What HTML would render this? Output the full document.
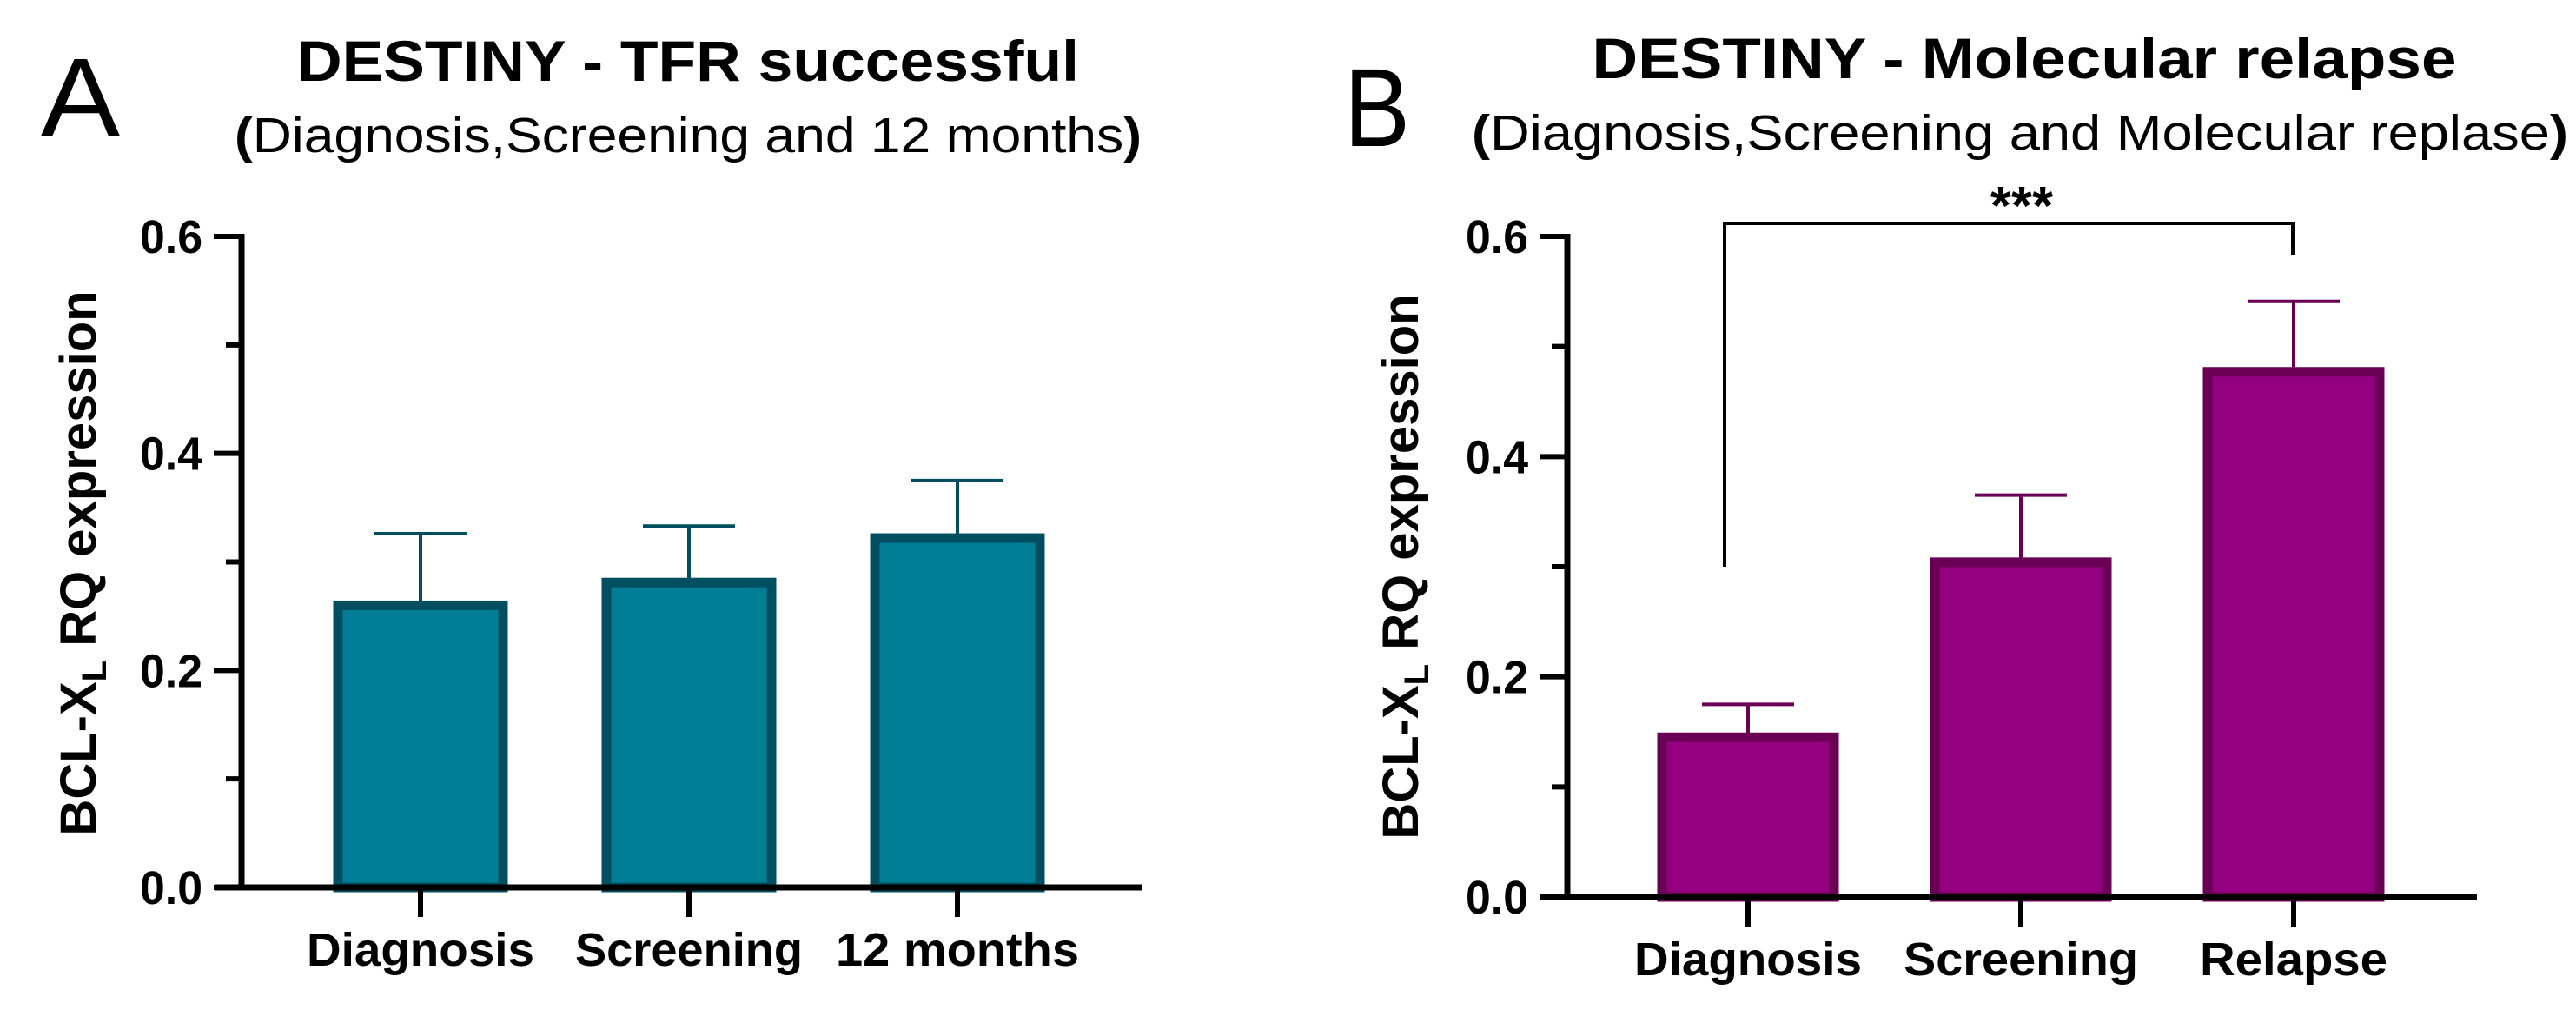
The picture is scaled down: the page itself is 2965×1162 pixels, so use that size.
<!DOCTYPE html>
<html><head><meta charset="utf-8"><style>
body{margin:0;background:#fff}
svg{display:block}
text{font-family:"Liberation Sans",sans-serif}
</style></head><body>
<svg id="fig" width="2965" height="1162" viewBox="0 0 2965 1162">
<text x="47" y="156" font-size="128" textLength="91" lengthAdjust="spacingAndGlyphs">A</text>
<text x="792" y="93" font-size="66" font-weight="bold" text-anchor="middle" textLength="900" lengthAdjust="spacingAndGlyphs">DESTINY - TFR successful</text>
<text x="792" y="175" font-size="57" text-anchor="middle" textLength="1044" lengthAdjust="spacingAndGlyphs"><tspan font-weight="bold">(</tspan>Diagnosis,Screening and 12 months<tspan font-weight="bold">)</tspan></text>
<text x="1547" y="168" font-size="128" textLength="76" lengthAdjust="spacingAndGlyphs">B</text>
<text x="2330" y="90" font-size="66" font-weight="bold" text-anchor="middle" textLength="995" lengthAdjust="spacingAndGlyphs">DESTINY - Molecular relapse</text>
<text x="2325" y="172" font-size="57" text-anchor="middle" textLength="1262" lengthAdjust="spacingAndGlyphs"><tspan font-weight="bold">(</tspan>Diagnosis,Screening and Molecular replase<tspan font-weight="bold">)</tspan></text>
<g id="pa"></g>
<g id="pb"></g>
</svg>
<script>
const catsA=["Diagnosis","Screening","12 months"];
const valsA=[0.264,0.285,0.326];
const errA=[0.326,0.333,0.375];
const catsB=["Diagnosis","Screening","Relapse"];
const valsB=[0.149,0.308,0.481];
const errB=[0.175,0.365,0.541];
const ticks=[0,0.2,0.4,0.6];
const ticksLabels=["0.0","0.2","0.4","0.6"];
const minorTicks=[0.1,0.3,0.5];
const NS="http://www.w3.org/2000/svg";
function mk(p,tag,a){const e=document.createElementNS(NS,tag);for(const k in a)e.setAttribute(k,a[k]);p.appendChild(e);return e;}
function panel(g,cfg,cats,vals,errs){
  const y=v=>cfg.y0-(v/0.6)*(cfg.y0-cfg.y6);
  const x=i=>cfg.c0+i*cfg.step;
  const t=mk(g,'text',{x:0,y:0,'font-size':58,'font-weight':'bold','text-anchor':'middle',transform:`translate(${cfg.tx},${cfg.ty}) rotate(-90)`});
  
  
  t.innerHTML='BCL-X<tspan font-size="40" dy="12">L</tspan><tspan dy="-12"> RQ expression</tspan>';
  cats.forEach((c,i)=>{
    const cx=x(i),bw=cfg.bw;
    const top=y(vals[i]);
    const eb=mk(g,'line',{x1:cx,x2:cx,y1:top,y2:y(errs[i]),stroke:cfg.stroke,'stroke-width':4});
    
    
    const cap=mk(g,'line',{x1:cx-53,x2:cx+53,y1:y(errs[i]),y2:y(errs[i]),stroke:cfg.stroke,'stroke-width':4});
    
    
    const r=mk(g,'rect',{x:cx-bw/2+5,y:top+5,width:bw-10,height:cfg.y0-top-5,fill:cfg.fill,stroke:cfg.stroke,'stroke-width':11});
    
    
    const tk=mk(g,'line',{x1:cx,x2:cx,y1:cfg.y0,y2:cfg.y0+34,stroke:'#000','stroke-width':6});
    
    
    const lb=mk(g,'text',{x:cx,y:cfg.y0+90,'font-size':54,'font-weight':'bold','text-anchor':'middle',textLength:cfg.lw[i],lengthAdjust:'spacingAndGlyphs'});
    
    
    lb.textContent=c;
  });
  const ya=mk(g,'line',{x1:cfg.ax,x2:cfg.ax,y1:y(0.6)-3,y2:cfg.y0+3,stroke:'#000','stroke-width':7});
  
  
  const xa=mk(g,'line',{x1:cfg.xs,x2:cfg.xe,y1:cfg.y0,y2:cfg.y0,stroke:'#000','stroke-width':7});
  
  
  ticks.forEach((v,i)=>{
    const l=mk(g,'line',{x1:cfg.ax-32,x2:cfg.ax,y1:y(v),y2:y(v),stroke:'#000','stroke-width':6});
    
    
    const tl=mk(g,'text',{x:cfg.ax-45,y:y(v)+19,'font-size':54,'font-weight':'bold','text-anchor':'end',textLength:72,lengthAdjust:'spacingAndGlyphs'});
    
    
    tl.textContent=ticksLabels[i];
  });
  minorTicks.forEach(v=>{
    const l=mk(g,'line',{x1:cfg.ax-18,x2:cfg.ax,y1:y(v),y2:y(v),stroke:'#000','stroke-width':6});
    
    
  });
  return {x,y};
}
const A=panel(document.getElementById('pa'),{y0:1021,y6:272,c0:484,step:309,bw:200,ax:278,xs:247,xe:1314,tx:110,ty:648,fill:'#007e96',stroke:'#004e60',lw:[262,262,280]},catsA,valsA,errA);
const B=panel(document.getElementById('pb'),{y0:1032,y6:272,c0:2012,step:314,bw:208,ax:1804,xs:1775,xe:2851,tx:1632,ty:652,fill:'#930080',stroke:'#6a0055',lw:[262,270,216]},catsB,valsB,errB);
const pb=document.getElementById('pb');
const br=mk(pb,'polyline',{points:`1985,652 1985,257 2639,257 2639,293`,fill:'none',stroke:'#000','stroke-width':4});


const st=mk(pb,'text',{x:2327,y:258,'font-size':62,'font-weight':'bold','text-anchor':'middle'});


st.textContent='***';
</script>
</body></html>
